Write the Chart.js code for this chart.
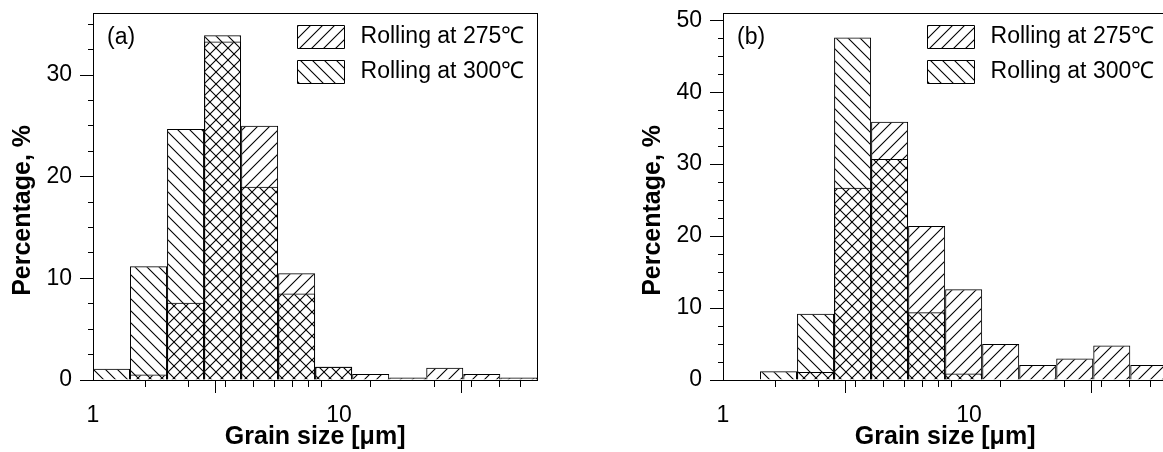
<!DOCTYPE html>
<html>
<head>
<meta charset="utf-8">
<script src="https://cdn.jsdelivr.net/npm/chart.js@4.4.1/dist/chart.umd.min.js"></script>
<style>
  html, body { margin:0; padding:0; background:#fff; width:1163px; height:452px; overflow:hidden; position:relative; }
  canvas { position:absolute; top:0; display:block; }
  #chartA { left:0; }
  #chartB { left:630px; }
</style>
</head>
<body>
<canvas id="chartA" width="560" height="452"></canvas>
<canvas id="chartB" width="560" height="452"></canvas>
<script>
// ---- data ----
const binEdges = [1, 1.4142, 2, 2.8284, 4, 5.6569, 8, 11.314, 16, 22.627, 32, 45.255, 64];
const seriesLabels = ['Rolling at 275℃', 'Rolling at 300℃'];
const panelTags = ['(a)', '(b)'];
const rolling275A = [0, 0.55, 7.6, 33.3, 25.0, 10.5, 1.3, 0.6, 0.25, 1.2, 0.6, 0.25];
const rolling300A = [1.1, 11.2, 24.7, 33.9, 19.0, 8.5, 1.3, 0, 0, 0, 0, 0];
const rolling275B = [0, 0, 1.1, 26.7, 35.9, 21.4, 12.6, 5.0, 2.1, 3.0, 4.8, 2.1];
const rolling300B = [0, 1.2, 9.2, 47.6, 30.7, 9.4, 0.9, 0, 0, 0, 0, 0];
const xMajorTicks = [1, 10];
const xMinorTicks = [2, 3, 4, 5, 6, 7, 8, 9, 20, 30, 40, 50, 60];
const yMajorTicksA = [0, 10, 20, 30];
const yMinorTicksA = [2.5, 5, 7.5, 12.5, 15, 17.5, 22.5, 25, 27.5, 32.5, 35];
const yMajorTicksB = [0, 10, 20, 30, 40, 50];
const yMinorTicksB = [2.5, 5, 7.5, 12.5, 15, 17.5, 22.5, 25, 27.5, 32.5, 35, 37.5, 42.5, 45, 47.5];
const xTitle = 'Grain size [μm]';
const yTitle = 'Percentage, %';

// ---- helpers ----
const FONT = '"Liberation Sans", Arial, Helvetica, sans-serif';
Chart.defaults.font.family = FONT;
Chart.defaults.color = '#000';

function hatch(ctx, dir) {
  const s = 12;
  const c = document.createElement('canvas');
  c.width = s; c.height = s;
  const g = c.getContext('2d');
  g.strokeStyle = '#000';
  g.lineWidth = 1.1;
  g.beginPath();
  if (dir === '/') {
    g.moveTo(0, s); g.lineTo(s, 0);
    g.moveTo(-2, 2); g.lineTo(2, -2);
    g.moveTo(s - 2, s + 2); g.lineTo(s + 2, s - 2);
  } else {
    g.moveTo(0, 0); g.lineTo(s, s);
    g.moveTo(s - 2, -2); g.lineTo(s + 2, 2);
    g.moveTo(-2, s - 2); g.lineTo(2, s + 2);
  }
  g.stroke();
  return ctx.createPattern(c, 'repeat');
}

const placeLegend = {
  id: 'placeLegend',
  afterLayout(chart, args, opts) {
    const lg = chart.legend;
    if (!lg) return;
    const ca = chart.chartArea;
    lg.left = ca.left + opts.dx;
    lg.top = ca.top + opts.dy;
    lg.right = ca.right;
    lg.bottom = ca.bottom;
    lg.width = lg.right - lg.left;
    lg.height = lg.bottom - lg.top;
  }
};

const panelTag = {
  id: 'panelTag',
  afterDraw(chart, args, opts) {
    const {ctx, chartArea} = chart;
    ctx.save();
    ctx.font = '23px ' + FONT;
    ctx.fillStyle = '#000';
    ctx.textAlign = 'left';
    ctx.textBaseline = 'middle';
    ctx.fillText(opts.text, chartArea.left + 14, chartArea.top + 24.5);
    ctx.restore();
  }
};

function tickSetter(list) {
  return (s) => { s.ticks = list.map(v => ({value: v})); };
}
function zeroPad(s) { s.paddingLeft = 0; s.paddingRight = 0; s.paddingTop = 0; s.paddingBottom = 0; }

function makeChart(id, s275, s300, yMax, yMajor, yMinor, tag) {
  const canvas = document.getElementById(id);
  const ctx = canvas.getContext('2d');
  const centers = binEdges.slice(0, -1).map((e, i) => Math.sqrt(e * binEdges[i + 1]));
  const ds = (label, vals, dir) => ({
    label,
    data: centers.map((x, i) => ({x, y: vals[i]})),
    backgroundColor: hatch(ctx, dir),
    borderColor: '#000',
    borderWidth: 1,
    grouped: false,
    barPercentage: 1,
    categoryPercentage: 1,
    inflateAmount: 0,
    xAxisID: 'x',
    yAxisID: 'y'
  });
  return new Chart(ctx, {
    type: 'bar',
    data: { datasets: [ds(seriesLabels[0], s275, '/'), ds(seriesLabels[1], s300, '\\')] },
    plugins: [placeLegend, panelTag],
    options: {
      responsive: false,
      devicePixelRatio: 1,
      animation: false,
      events: [],
      layout: { padding: { top: 13, right: 22.7, bottom: 0, left: 0 }, autoPadding: false },
      plugins: {
        tooltip: { enabled: false },
        title: { display: false },
        panelTag: { text: tag },
        placeLegend: { dx: 192.5, dy: 0.5 },
        legend: {
          display: true,
          position: 'chartArea',
          fullSize: false,
          align: 'start',
          labels: {
            boxWidth: 47,
            boxHeight: 23,
            padding: 12,
            color: '#000',
            font: { size: 23 },
            generateLabels: (chart) => Chart.defaults.plugins.legend.labels.generateLabels(chart)
              .map(item => Object.assign(item, { text: '\u2009' + item.text }))
          }
        }
      },
      scales: {
        x: {
          type: 'logarithmic', position: 'bottom', min: 1, max: 64, weight: 1,
          afterBuildTicks: tickSetter(xMajorTicks),
          afterFit: (s) => { s.height = 72; zeroPad(s); },
          ticks: { callback: (v) => String(v), font: { size: 23 }, color: '#000', padding: 9, maxRotation: 0, autoSkip: false },
          grid: { display: true, drawOnChartArea: false, drawTicks: true, tickLength: 13, color: '#000', tickColor: '#000', lineWidth: 1 },
          border: { display: true, color: '#000', width: 1 },
          title: { display: true, text: xTitle, font: { size: 25, weight: 'bold' }, color: '#000', padding: { top: 0, bottom: 0 } }
        },
        xMinor: {
          type: 'logarithmic', position: 'bottom', min: 1, max: 64, weight: 0,
          afterBuildTicks: tickSetter(xMinorTicks),
          afterFit: (s) => { s.height = 0; zeroPad(s); },
          ticks: { display: false },
          grid: { display: true, drawOnChartArea: false, drawTicks: true, tickLength: 7, color: '#000', tickColor: '#000', lineWidth: 1 },
          border: { display: false }
        },
        xTop: {
          type: 'linear', position: 'top', min: 0, max: 1,
          afterFit: (s) => { s.height = 0; zeroPad(s); },
          ticks: { display: false },
          grid: { display: false },
          border: { display: true, color: '#000', width: 1 }
        },
        y: {
          type: 'linear', position: 'left', min: 0, max: yMax, weight: 1,
          afterBuildTicks: tickSetter(yMajor),
          afterFit: (s) => { s.width = 93; zeroPad(s); },
          ticks: { font: { size: 23 }, color: '#000', padding: 8, callback: (v) => String(v) },
          grid: { display: true, drawOnChartArea: false, drawTicks: true, tickLength: 13, color: '#000', tickColor: '#000', lineWidth: 1 },
          border: { display: true, color: '#000', width: 1 },
          title: { display: true, text: yTitle + '\u00a0\u00a0\u00a0\u00a0', font: { size: 25, weight: 'bold' }, color: '#000', padding: { top: 8, bottom: 0 } }
        },
        yMinor: {
          type: 'linear', position: 'left', min: 0, max: yMax, weight: 0,
          afterBuildTicks: tickSetter(yMinor),
          afterFit: (s) => { s.width = 0; zeroPad(s); },
          ticks: { display: false },
          grid: { display: true, drawOnChartArea: false, drawTicks: true, tickLength: 5, color: '#000', tickColor: '#000', lineWidth: 1 },
          border: { display: false }
        },
        yRight: {
          type: 'linear', position: 'right', min: 0, max: 1,
          afterFit: (s) => { s.width = 0; zeroPad(s); },
          ticks: { display: false },
          grid: { display: false },
          border: { display: true, color: '#000', width: 1 }
        }
      }
    }
  });
}

makeChart('chartA', rolling275A, rolling300A, 36.1, yMajorTicksA, yMinorTicksA, panelTags[0]);
makeChart('chartB', rolling275B, rolling300B, 51, yMajorTicksB, yMinorTicksB, panelTags[1]);
</script>
</body>
</html>
